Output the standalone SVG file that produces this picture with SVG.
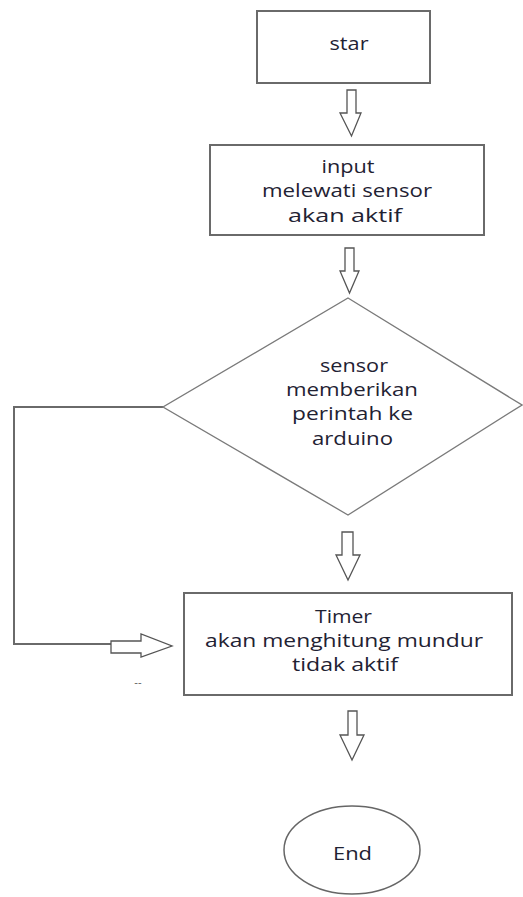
<svg xmlns="http://www.w3.org/2000/svg" width="523" height="897" viewBox="0 0 523 897">
<style>
.box{fill:#fff;stroke:#6a6a6a;stroke-width:2}
.dia{fill:#fff;stroke:#7a7a7a;stroke-width:1.3}
.arr{fill:#fff;stroke:#555;stroke-width:1.3;stroke-linejoin:miter}
.ln{fill:none;stroke:#6a6a6a;stroke-width:2}
.t{font-family:"Open Sans","Noto Sans",sans-serif;font-size:18px;fill:#1f2233;text-anchor:middle}
</style>
<rect width="523" height="897" fill="#fff"/>
<g id="connectors">
<polygon class="arr" points="347,90 356,90 356,113 361,113 351.5,136 340,113 347,113"/>
<polygon class="arr" points="345,248 354,248 354,271 359,271 349.5,293 340,271 345,271"/>
<polygon class="arr" points="342,532 353,532 353,555 360,555 348,580 336,555 342,555"/>
<polygon class="arr" points="348,711 357,711 357,735 364,735 352,760 340,735 348,735"/>
<polyline class="ln" points="163,407 14,407 14,644 111,644"/>
<polygon class="arr" points="111,641 141,641 141,634 172,646 141,657 141,653 111,653"/>
<text x="138" y="686" style="font-family:'Liberation Sans',sans-serif;font-size:11px;fill:#666;text-anchor:middle">--</text>
</g>
<g id="start">
<rect class="box" x="257" y="11" width="173" height="72"/>
<text class="t" x="349" y="50" textLength="39" lengthAdjust="spacingAndGlyphs">star</text>
</g>
<g id="input">
<rect class="box" x="210" y="145" width="274" height="90"/>
<text class="t" x="348" y="173" textLength="53" lengthAdjust="spacingAndGlyphs">input</text>
<text class="t" x="347" y="197" textLength="170" lengthAdjust="spacingAndGlyphs">melewati sensor</text>
<text class="t" x="345" y="222" textLength="114" lengthAdjust="spacingAndGlyphs">akan aktif</text>
</g>
<g id="decision">
<polygon class="dia" points="348,298 522,405 348,515 163,407"/>
<text class="t" x="354" y="372" textLength="68" lengthAdjust="spacingAndGlyphs">sensor</text>
<text class="t" x="352" y="396" textLength="132" lengthAdjust="spacingAndGlyphs">memberikan</text>
<text class="t" x="352.5" y="420" textLength="121" lengthAdjust="spacingAndGlyphs">perintah ke</text>
<text class="t" x="352.5" y="445" textLength="81" lengthAdjust="spacingAndGlyphs">arduino</text>
</g>
<g id="timer">
<rect class="box" x="184" y="593" width="328" height="102"/>
<text class="t" x="343.5" y="623" textLength="57" lengthAdjust="spacingAndGlyphs">Timer</text>
<text class="t" x="344" y="647" textLength="278" lengthAdjust="spacingAndGlyphs">akan menghitung mundur</text>
<text class="t" x="345" y="671" textLength="106" lengthAdjust="spacingAndGlyphs">tidak aktif</text>
</g>
<g id="end">
<ellipse cx="352" cy="850" rx="68" ry="44" fill="#fff" stroke="#666" stroke-width="1.5"/>
<text class="t" x="352.5" y="860" textLength="39" lengthAdjust="spacingAndGlyphs">End</text>
</g>
</svg>
